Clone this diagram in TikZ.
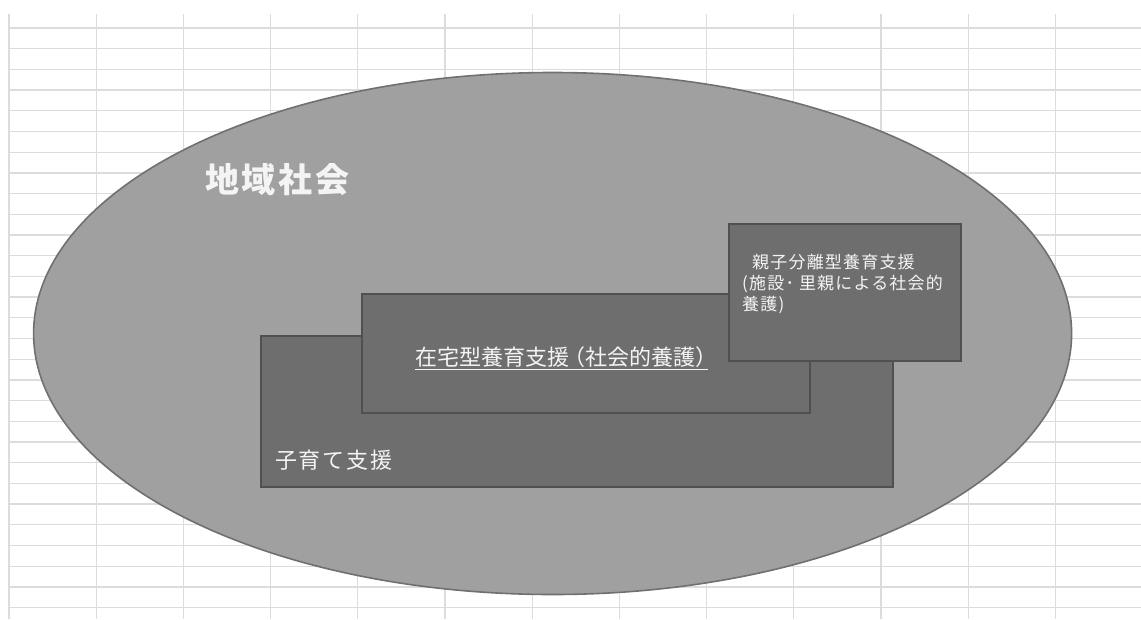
\documentclass[tikz,border=0pt]{standalone}
\usepackage{fontspec}
\newfontfamily\cjk{Noto Sans CJK JP}
\newfontfamily\cjkls[LetterSpace=8]{Noto Sans CJK JP}
\newfontfamily\cjksm[LetterSpace=7]{Noto Sans CJK JP}
\usetikzlibrary{shapes.geometric}
\definecolor{gridgray}{HTML}{DCDCDC}
\definecolor{ellfill}{HTML}{A0A0A0}
\definecolor{ellline}{HTML}{707070}
\definecolor{boxfill}{HTML}{6E6E6E}
\definecolor{boxline}{HTML}{505050}
\definecolor{txt}{HTML}{F4F4F4}
\tikzset{
  gridline/.style={draw=gridgray, line width=1.3pt},
  region/.style={ellipse, draw=ellline, fill=ellfill, line width=1.6pt, inner sep=0pt},
  layer/.style={rectangle, draw=boxline, fill=boxfill, line width=2.4pt, inner sep=0pt},
  label/.style={text=txt, inner sep=0pt, font=\cjk}
}
\begin{document}
\begin{tikzpicture}[x=1pt,y=-1pt]
\useasboundingbox[fill=white] (0,0) rectangle (1141,619);
% spreadsheet grid
\foreach \k in {0,...,12} {
  \draw[gridline] ({9+87.2*\k},14) -- ({9+87.2*\k},619);
}
\foreach \k in {0,...,28} {
  \draw[gridline] (9,{28+20.7*\k}) -- (1141,{28+20.7*\k});
}
% community ellipse
\node[region, minimum width=1038pt, minimum height=522pt] (community) at (552.6,333.5) {};
\node[label, anchor=west, font=\cjkls\bfseries\fontsize{34}{40}\selectfont] (communitytext) at (205,180) {地域社会};
% layers
\node[layer, minimum width=631.7pt, minimum height=151.3pt] (childcare) at (576.9,411.4) {};
\node[layer, minimum width=448.3pt, minimum height=119pt] (homecare) at (585.9,353.5) {};
\node[layer, minimum width=231.7pt, minimum height=137pt] (separated) at (844.9,292.5) {};
% texts
\node[label, anchor=west, font=\cjkls\fontsize{22}{26}\selectfont] (childcaretext) at (275,460) {子育て支援};
\node[label, anchor=west, font=\cjk\fontsize{22}{26}\selectfont] (homecaretext) at (415,358) {\underline{在宅型養育支援\kern-0.25em（社会的養護）\kern-0.45em}};
\node[label, anchor=north west, align=left, font=\cjksm\fontsize{17}{21}\selectfont] (separatedtext) at (742,254) {\hspace{10pt}親子分離型養育支援\\(施設･ 里親による社会的\\養護)};
\end{tikzpicture}
\end{document}
